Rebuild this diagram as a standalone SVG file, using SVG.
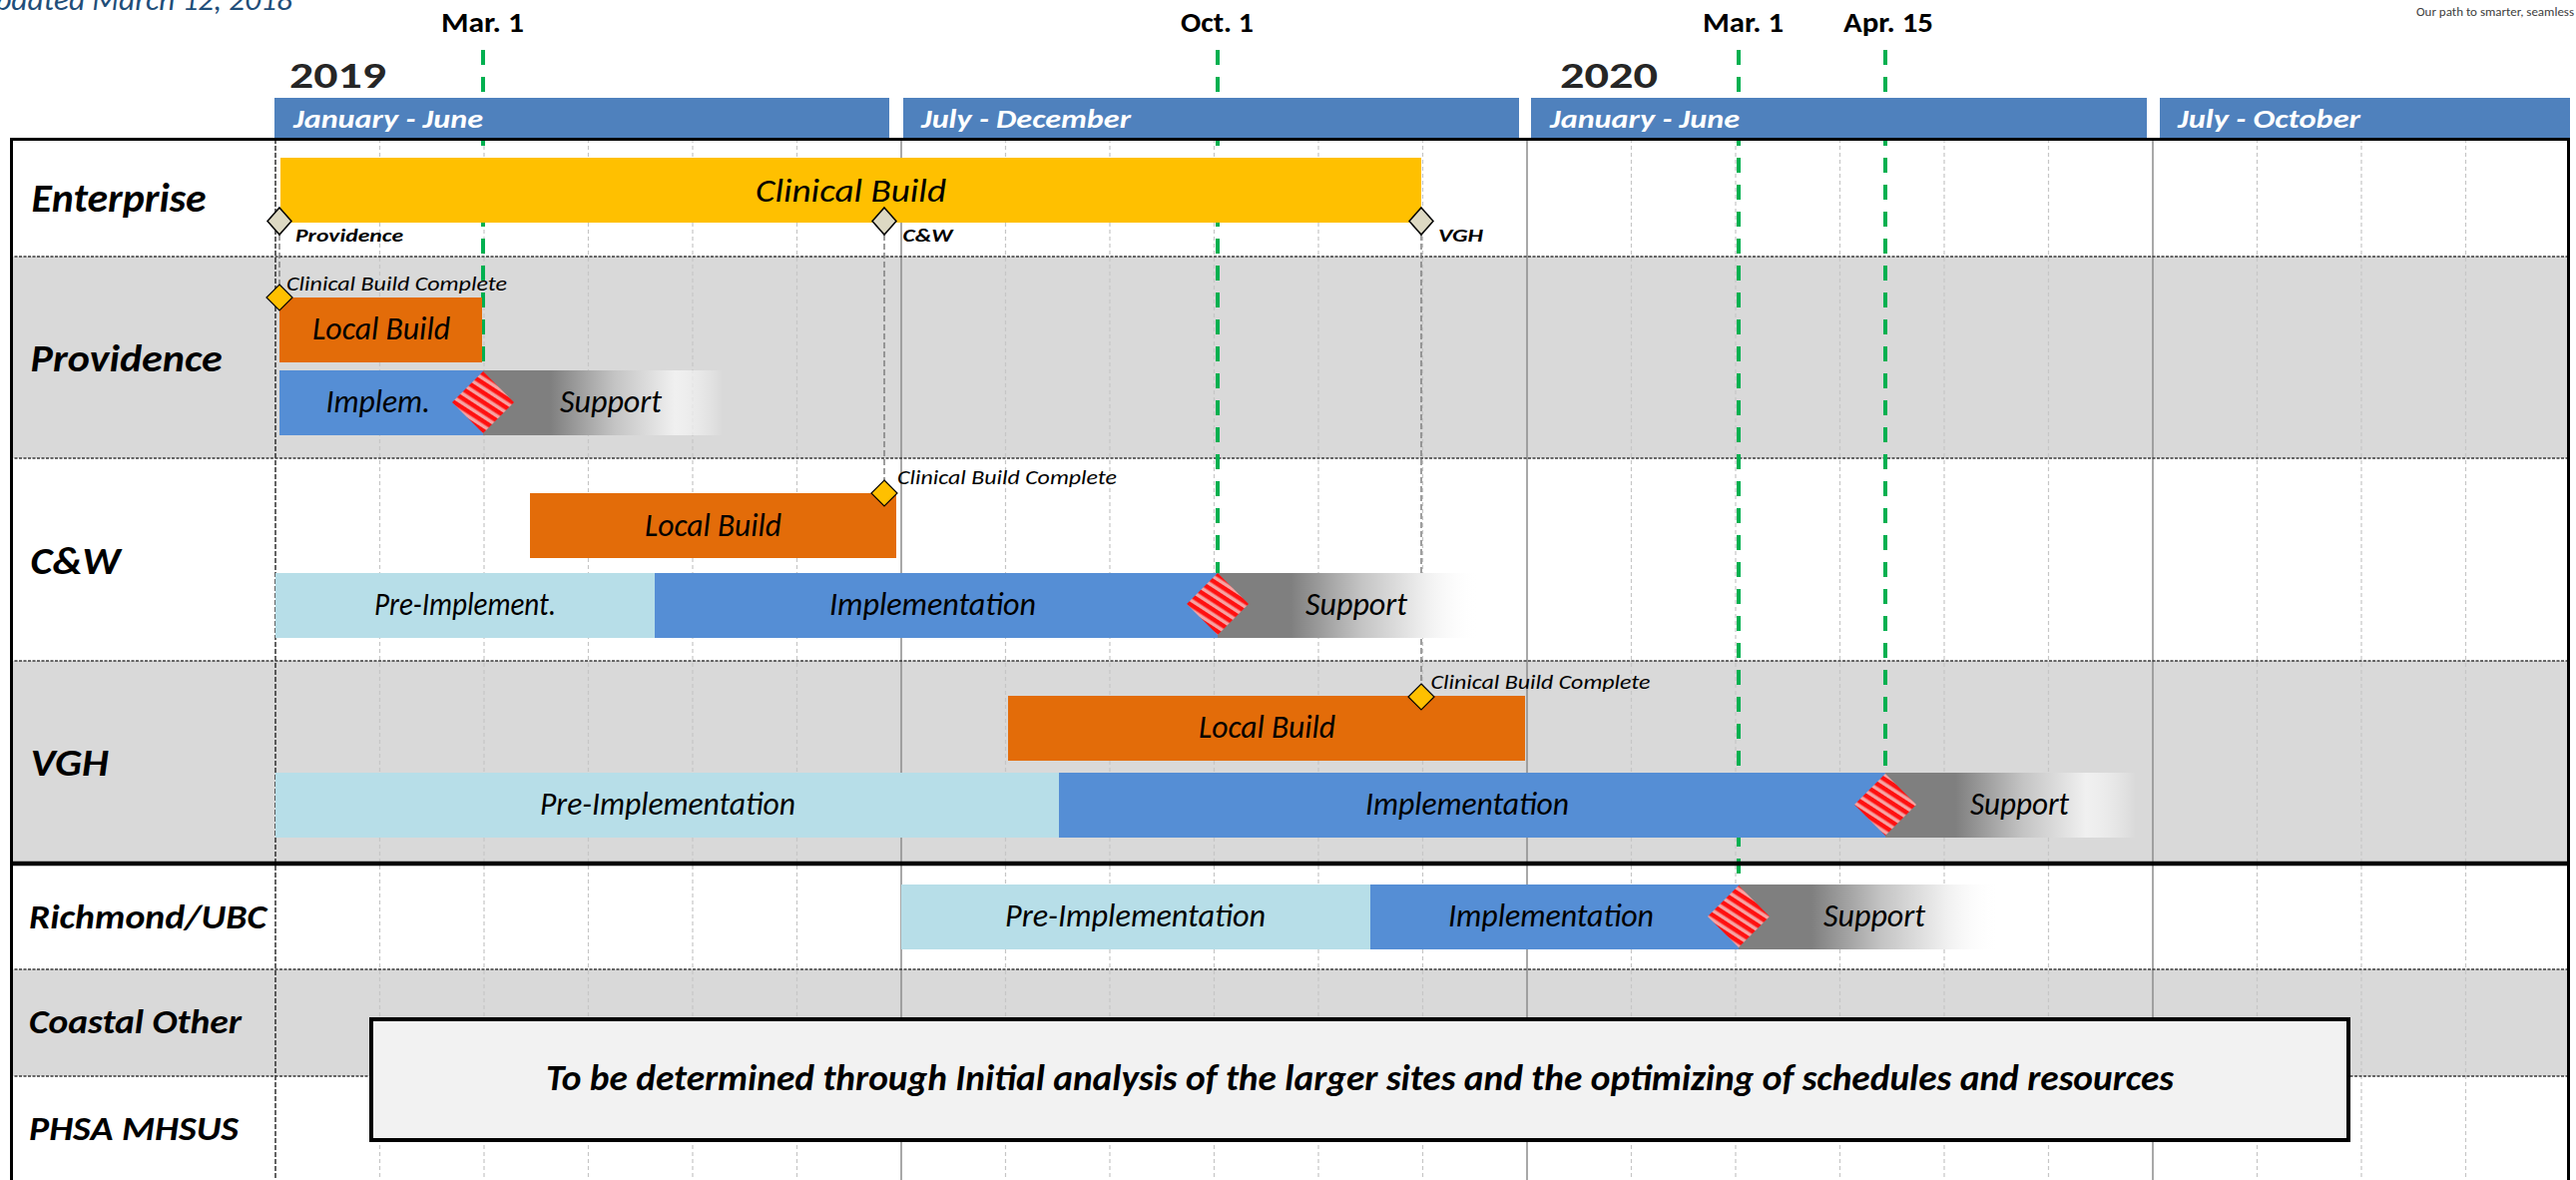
<svg xmlns="http://www.w3.org/2000/svg" width="2581" height="1182" viewBox="0 0 2581 1182">
<style>
text{font-family:Carlito,Lato,"Liberation Sans",sans-serif;}
.lbl{font-weight:bold;font-style:italic;fill:#000;}
.bt{font-style:italic;font-size:32px;fill:#000;}
.hd{font-weight:bold;font-style:italic;font-size:27px;fill:#fff;}
.top{font-weight:bold;font-size:28px;fill:#000;}
.yr{font-weight:900;font-size:37px;fill:#262626;}
.cbc{font-style:italic;font-size:21px;fill:#000;}
.ms{font-weight:bold;font-style:italic;font-size:18px;fill:#000;}
.hbar{fill:#4F81BD;}
.gray{fill:#D9D9D9;}
.mg{stroke:#C6C6C6;stroke-width:1.2;stroke-dasharray:4 3;fill:none;}
.hg{stroke:#8C8C8C;stroke-width:1.5;fill:none;}
.sep{stroke:#3A3A3A;stroke-width:1.6;stroke-dasharray:3 1.5;fill:none;}
.drop{stroke:#7F7F7F;stroke-width:1.5;stroke-dasharray:6 3;fill:none;}
.grn{stroke:#00B050;stroke-width:4;stroke-dasharray:15 12;fill:none;}
.lb{fill:#E36C09;}
.impl{fill:#558ED5;}
.pre{fill:#B7DEE8;}
.sup{fill:url(#fade);}
.cb{fill:#FFC000;}
.golive{fill:url(#stripes);}
.em{fill:#DDD9C3;stroke:#000;stroke-width:1.5;}
.cm{fill:#FFC000;stroke:#000;stroke-width:1.2;}
</style>
<defs>
<linearGradient id="fade" x1="0" y1="0" x2="1" y2="0">
<stop offset="0" stop-color="#7F7F7F"/>
<stop offset="0.28" stop-color="#7F7F7F"/>
<stop offset="0.55" stop-color="#C4C4C4"/>
<stop offset="0.8" stop-color="#F0F0F0"/>
<stop offset="1" stop-color="#FFFFFF" stop-opacity="0"/>
</linearGradient>
<pattern id="stripes" patternUnits="userSpaceOnUse" width="8" height="8" patternTransform="rotate(33)">
<rect width="8" height="8" fill="#F6A3A3"/>
<rect width="8" height="4.5" fill="#FF1010"/>
</pattern>
</defs>
<rect width="2581" height="1182" fill="#fff"/>

<g id="top-text">
<text x="-25" y="10" font-style="italic" font-size="30" fill="#1F4E79" textLength="318" lengthAdjust="spacingAndGlyphs">Updated March 12, 2018</text>
<text x="2421" y="16" font-size="12" fill="#404040" textLength="158" lengthAdjust="spacingAndGlyphs">Our path to smarter, seamless</text>
</g>

<g id="rows">
<rect class="gray" x="10" y="257" width="2565" height="202"/>
<rect class="gray" x="10" y="662" width="2565" height="203"/>
<rect class="gray" x="10" y="971" width="2565" height="107"/>
</g>

<g id="gridlines">
<path class="mg" d="M380.5 139V1182M485 139V1182M589.5 139V1182M694 139V1182M798.5 139V1182M1007.5 139V1182M1112 139V1182M1216.5 139V1182M1321 139V1182M1425.5 139V1182M1634.5 139V1182M1739 139V1182M1843.5 139V1182M1948 139V1182M2052.5 139V1182M2261.5 139V1182M2366 139V1182M2470.5 139V1182"/>
<path class="hg" d="M903 139V1182M1530 139V1182M2157 139V1182"/>
<path d="M276 139V1182" stroke="#222" stroke-width="1.4" stroke-dasharray="5 2" fill="none"/>
<path class="sep" d="M10 257H2575M10 459H2575M10 662H2575M10 971H2575M10 1078H2575"/>
</g>

<g id="connectors">
<path class="grn" d="M484 50V400"/>
<path class="grn" d="M1220 50V600"/>
<path class="grn" d="M1889 50V800"/>
<path class="grn" d="M1742 50V912"/>
<path class="drop" d="M280 235V285"/>
<path class="drop" d="M886 235V481"/>
<path class="drop" d="M1424 235V685"/>
</g>

<g id="header">
<rect class="hbar" x="275" y="98" width="616" height="41"/>
<rect class="hbar" x="905" y="98" width="617" height="41"/>
<rect class="hbar" x="1534" y="98" width="617" height="41"/>
<rect class="hbar" x="2164" y="98" width="411" height="41"/>
<text class="hd" x="294" y="128" textLength="190" lengthAdjust="spacingAndGlyphs">January - June</text>
<text class="hd" x="923" y="128" textLength="210" lengthAdjust="spacingAndGlyphs">July - December</text>
<text class="hd" x="1553" y="128" textLength="190" lengthAdjust="spacingAndGlyphs">January - June</text>
<text class="hd" x="2182" y="128" textLength="183" lengthAdjust="spacingAndGlyphs">July - October</text>
<text class="yr" x="290" y="88" textLength="97" lengthAdjust="spacingAndGlyphs">2019</text>
<text class="yr" x="1563" y="88" textLength="98" lengthAdjust="spacingAndGlyphs">2020</text>
<text class="top" x="442" y="32" textLength="83" lengthAdjust="spacingAndGlyphs">Mar. 1</text>
<text class="top" x="1183" y="32" textLength="73" lengthAdjust="spacingAndGlyphs">Oct. 1</text>
<text class="top" x="1706" y="32" textLength="81" lengthAdjust="spacingAndGlyphs">Mar. 1</text>
<text class="top" x="1847" y="32" textLength="90" lengthAdjust="spacingAndGlyphs">Apr. 15</text>
</g>

<g id="enterprise">
<rect class="cb" x="281" y="158" width="1143" height="65"/>
<text class="bt" x="757" y="202" font-size="34" textLength="191" lengthAdjust="spacingAndGlyphs">Clinical Build</text>
<polygon class="em" points="280,208 292,221.5 280,235 268,221.5"/>
<polygon class="em" points="886,208 898,221.5 886,235 874,221.5"/>
<polygon class="em" points="1424,208 1436,221.5 1424,235 1412,221.5"/>
<text class="ms" x="296" y="242" textLength="108" lengthAdjust="spacingAndGlyphs">Providence</text>
<text class="ms" x="904.5" y="242" textLength="50" lengthAdjust="spacingAndGlyphs">C&amp;W</text>
<text class="ms" x="1441" y="242" textLength="45" lengthAdjust="spacingAndGlyphs">VGH</text>
</g>

<g id="providence">
<rect class="lb" x="280" y="298" width="203" height="65"/>
<text class="bt" x="313" y="340" textLength="138" lengthAdjust="spacingAndGlyphs">Local Build</text>
<rect class="impl" x="280" y="371" width="204" height="65"/>
<text class="bt" x="326.5" y="413" textLength="104.5" lengthAdjust="spacingAndGlyphs">Implem.</text>
<rect class="sup" x="484" y="371" width="240" height="65"/>
<text class="bt" x="561" y="413" textLength="102" lengthAdjust="spacingAndGlyphs">Support</text>
<polygon class="golive" points="484,372 515,403 484,434 453,403"/>
<polygon class="cm" points="280,285 293,298 280,311 267,298"/>
<text class="cbc" x="287" y="291" textLength="221" lengthAdjust="spacingAndGlyphs">Clinical Build Complete</text>
</g>

<g id="cw">
<rect class="lb" x="531" y="494" width="367" height="65"/>
<text class="bt" x="646" y="537" textLength="137" lengthAdjust="spacingAndGlyphs">Local Build</text>
<rect class="pre" x="276" y="574" width="380" height="65"/>
<text class="bt" x="375" y="616" textLength="182" lengthAdjust="spacingAndGlyphs">Pre-Implement.</text>
<rect class="impl" x="656" y="574" width="564" height="65"/>
<text class="bt" x="831" y="616" textLength="207" lengthAdjust="spacingAndGlyphs">Implementation</text>
<rect class="sup" x="1220" y="574" width="262" height="65"/>
<text class="bt" x="1308" y="616" textLength="102" lengthAdjust="spacingAndGlyphs">Support</text>
<polygon class="golive" points="1220,574 1251,605 1220,636 1189,605"/>
<polygon class="cm" points="886,481 899,494 886,507 873,494"/>
<text class="cbc" x="899" y="485" textLength="220" lengthAdjust="spacingAndGlyphs">Clinical Build Complete</text>
</g>

<g id="vgh">
<rect class="lb" x="1010" y="697" width="518" height="65"/>
<text class="bt" x="1201" y="739" textLength="137" lengthAdjust="spacingAndGlyphs">Local Build</text>
<rect class="pre" x="276" y="774" width="785" height="65"/>
<text class="bt" x="541" y="816" textLength="256" lengthAdjust="spacingAndGlyphs">Pre-Implementation</text>
<rect class="impl" x="1061" y="774" width="828" height="65"/>
<text class="bt" x="1368" y="816" textLength="204" lengthAdjust="spacingAndGlyphs">Implementation</text>
<rect class="sup" x="1889" y="774" width="251" height="65"/>
<text class="bt" x="1974" y="816" textLength="99" lengthAdjust="spacingAndGlyphs">Support</text>
<polygon class="golive" points="1889,775 1920,806 1889,837 1858,806"/>
<polygon class="cm" points="1424,685 1437,698 1424,711 1411,698"/>
<text class="cbc" x="1433.5" y="690" textLength="220" lengthAdjust="spacingAndGlyphs">Clinical Build Complete</text>
</g>

<g id="richmond">
<rect class="pre" x="903" y="886" width="470" height="65"/>
<text class="bt" x="1007" y="928" textLength="261" lengthAdjust="spacingAndGlyphs">Pre-Implementation</text>
<rect class="impl" x="1373" y="886" width="369" height="65"/>
<text class="bt" x="1451" y="928" textLength="206" lengthAdjust="spacingAndGlyphs">Implementation</text>
<rect class="sup" x="1742" y="886" width="261" height="65"/>
<text class="bt" x="1827" y="928" textLength="102" lengthAdjust="spacingAndGlyphs">Support</text>
<polygon class="golive" points="1742,887 1773,918 1742,949 1711,918"/>
</g>

<g id="table-frame">
<path d="M11.5 1182V139.5H2573.5V1182" stroke="#000" stroke-width="3" fill="none"/>
<path d="M10 865H2575" stroke="#000" stroke-width="4.5"/>
</g>

<g id="row-labels">
<text class="lbl" x="31.6" y="212" font-size="40" textLength="175" lengthAdjust="spacingAndGlyphs">Enterprise</text>
<text class="lbl" x="30.6" y="372" font-size="39" textLength="192" lengthAdjust="spacingAndGlyphs">Providence</text>
<text class="lbl" x="30.6" y="575" font-size="39" textLength="90" lengthAdjust="spacingAndGlyphs">C&amp;W</text>
<text class="lbl" x="30.6" y="777" font-size="39" textLength="78" lengthAdjust="spacingAndGlyphs">VGH</text>
<text class="lbl" x="29" y="930" font-size="35" textLength="238" lengthAdjust="spacingAndGlyphs">Richmond/UBC</text>
<text class="lbl" x="29" y="1035" font-size="35" textLength="213" lengthAdjust="spacingAndGlyphs">Coastal Other</text>
<text class="lbl" x="29" y="1142" font-size="35" textLength="210" lengthAdjust="spacingAndGlyphs">PHSA MHSUS</text>
</g>

<g id="tbd-note">
<rect x="372" y="1021" width="1981" height="121" fill="#F2F2F2" stroke="#000" stroke-width="4"/>
<text class="lbl" x="547" y="1092" font-size="36" textLength="1631" lengthAdjust="spacingAndGlyphs">To be determined through Initial analysis of the larger sites and the optimizing of schedules and resources</text>
</g>
</svg>
